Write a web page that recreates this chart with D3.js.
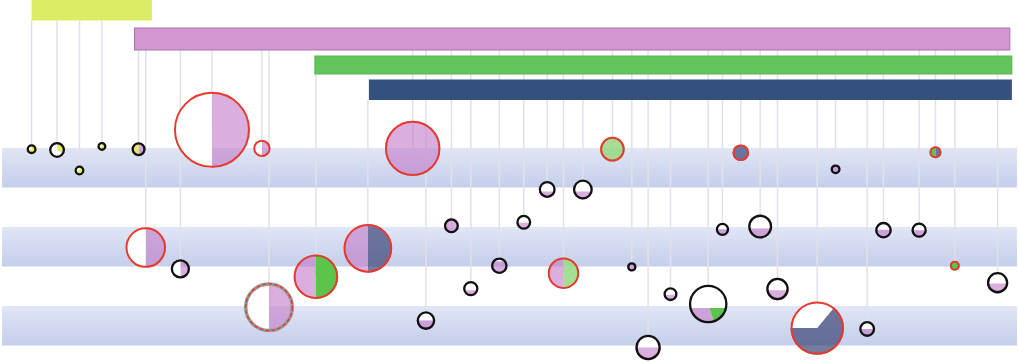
<!DOCTYPE html>
<html><head><meta charset="utf-8">
<script src="https://cdn.jsdelivr.net/npm/d3@7"></script>
<style>body{margin:0;background:#fff;overflow:hidden}svg{display:block}</style>
</head><body>
<svg id="chart" width="1019" height="362"></svg>
<script>
// ---------- DATA ----------
const eraNames = ["Era I", "Era II", "Era III", "Era IV"];
const eraStart = [3.1, 13.2, 30.9, 36.2];
const eraEnd   = [14.9, 99.1, 99.3, 99.3];

const bandRows = [[0, 1], [2, 3], [4, 5]];

const eventX = [3.1, 5.6, 7.8, 10.0, 13.6, 20.8, 25.7, 14.3, 17.7, 26.4,
  31.0, 36.1, 40.5, 60.1, 72.7, 82.0, 91.8, 93.7, 53.7, 57.2,
  44.3, 51.4, 49.0, 46.2, 41.8, 55.3, 62.0, 63.6, 65.8, 70.9,
  74.6, 69.5, 76.3, 80.2, 85.1, 86.7, 90.2, 97.9];
const eventY = [0.03, 0.05, 0.57, -0.04, 0.03, -0.46, 0.01, 2.52, 3.06, 4.03,
  3.26, 2.54, 0.01, 0.03, 0.12, 0.54, 0.11, 2.98, 1.05, 1.05,
  1.97, 1.88, 2.98, 3.56, 4.37, 3.17, 3.01, 5.05, 3.70, 2.06,
  1.99, 3.95, 3.57, 4.56, 4.58, 2.08, 2.08, 3.41];
const eventSize = [1.7, 4.4, 1.7, 1.4, 3.4, 100, 5.2, 28.5, 6.5, 37.6,
  34.4, 40.9, 53.1, 10.5, 4.8, 1.7, 2.5, 1.7, 5.0, 6.9,
  3.9, 3.9, 4.8, 4.1, 6.0, 17.1, 1.5, 11.2, 3.4, 3.1,
  10.0, 25.8, 8.8, 49.4, 4.4, 4.8, 4.1, 7.9];
const eventLevel = [1, 1, 1, 1, 1, 1, 1, 1, 1, 1,
  1, 1, 1, 1, 1, 1, 1, 1, 0.38, 0.4,
  1, 0.47, 0.75, 0.4, 0.5, 1, 1, 0.5, 0.45, 0.5,
  0.42, 0.4, 0.45, 1, 0.49, 0.52, 0.5, 0.46];
const eventBorder = ["k","k","k","k","k","r","r","r","k","d",
  "r","r","r","r","r","k","r","r","k","k",
  "k","k","k","k","k","r","k","k","k","k",
  "k","k","k","r","k","k","k","k"];
const eventEra = [0,0,0,0,1,1,1,1,1,1,
  2,3,1,1,1,1,1,1,1,1,
  1,1,1,1,1,1,1,1,1,1,
  1,1,1,1,1,1,1,1];
const HALF_PW = [["P", 0.5], ["W", 0.5]];
const FULL_P = [["P", 1]];
const eventSlices = [
  [["Y", 0.7], ["W", 0.3]], [["Y", 0.33], ["W", 0.67]], [["Y", 0.75], ["W", 0.25]],
  [["Y", 0.75], ["W", 0.25]], [["P", 0.5], ["Y", 0.5]],
  HALF_PW, HALF_PW, HALF_PW, HALF_PW, HALF_PW,
  [["G", 0.5], ["P", 0.5]], [["B", 0.5], ["P", 0.5]], FULL_P, [["L", 1]], [["B", 1]],
  FULL_P, [["B", 0.5], ["G", 0.5]], [["G", 1]], FULL_P, FULL_P,
  FULL_P, FULL_P, FULL_P, FULL_P, FULL_P, [["L", 0.5], ["P", 0.5]], FULL_P, FULL_P, FULL_P, FULL_P,
  FULL_P, [["G", 0.45], ["P", 0.55]], FULL_P, [["W", 0.11], ["B", 0.64], ["W", 0.25]],
  FULL_P, FULL_P, FULL_P, FULL_P
];

// ---------- STYLE ----------
const eraFill = ["#dcec64", "#d396d0", "#62c45a", "#34507c"];
const eraStroke = ["none", "#a772ae", "#58b850", "none"];
const sliceFill = {Y: "#e4ec64", P: "#c27ac8", G: "#5cc44c", L: "#98d884", B: "#3c4478", W: "#ffffff"};
const sliceOpacity = {Y: 1, P: 0.6, G: 1, L: 0.85, B: 0.7, W: 1};

const W = 1019, H = 362;
const svg = d3.select("#chart");
const x = d3.scaleLinear().domain([0, 100]).range([0, W]);
const y = d3.scaleLinear().domain([0, 5]).range([148, 345.5]);
const r = d3.scaleSqrt().domain([0, 100]).range([0, 38]);
const eraTop = d3.scaleOrdinal().domain(d3.range(eraNames.length)).range([0, 28, 56, 79.5]);
const eraBottom = d3.scaleOrdinal().domain(d3.range(eraNames.length)).range([20.5, 50, 74, 100]);

const defs = svg.append("defs");
const grad = defs.append("linearGradient").attr("id", "bandGrad")
  .attr("x1", 0).attr("y1", 0).attr("x2", 0).attr("y2", 1);
grad.append("stop").attr("offset", "0%").attr("stop-color", "#e0e6f5");
grad.append("stop").attr("offset", "100%").attr("stop-color", "#c5ceeb");

// bands
svg.append("g").selectAll("rect").data(bandRows).join("rect")
  .attr("x", x(0.2)).attr("width", x(99.8) - x(0.2))
  .attr("y", d => y(d[0])).attr("height", d => y(d[1]) - y(d[0]))
  .attr("fill", "url(#bandGrad)");

const events = eventX.map((v, i) => ({
  i, x: v, y: eventY[i], size: eventSize[i], level: eventLevel[i],
  border: eventBorder[i], era: eventEra[i], slices: eventSlices[i]
}));

// vertical lines
svg.append("g").selectAll("line").data(events).join("line")
  .attr("x1", d => x(d.x)).attr("x2", d => x(d.x))
  .attr("y1", d => eraBottom(d.era))
  .attr("y2", d => y(d.y))
  .attr("stroke", "#e1e1e9").attr("stroke-width", 1.5);

// era bars
svg.append("g").selectAll("rect").data(eraNames).join("rect")
  .attr("x", (d, i) => x(eraStart[i]))
  .attr("width", (d, i) => x(eraEnd[i]) - x(eraStart[i]))
  .attr("y", (d, i) => eraTop(i)).attr("height", (d, i) => eraBottom(i) - eraTop(i))
  .attr("fill", (d, i) => eraFill[i])
  .attr("stroke", (d, i) => eraStroke[i]).attr("stroke-width", 1);

// circles
const pie = d3.pie().sort(null).value(d => d[1]);
const gC = svg.append("g");
events.forEach(d => {
  const R = r(d.size);
  const g = gC.append("g").attr("transform", `translate(${x(d.x)},${y(d.y)})`);
  const levelY = R - 2 * R * d.level;
  const cid = "clip" + d.i, uid = "up" + d.i;
  defs.append("clipPath").attr("id", cid).append("rect")
    .attr("x", -R - 2).attr("width", 2 * R + 4).attr("y", levelY).attr("height", R - levelY + 2);
  if (d.level < 1) {
    defs.append("clipPath").attr("id", uid).append("rect")
      .attr("x", -R - 2).attr("width", 2 * R + 4).attr("y", -R - 2).attr("height", levelY + R + 2);
    g.append("circle").attr("r", R).attr("fill", "#fff").attr("clip-path", `url(#${uid})`);
  }
  const arc = d3.arc().innerRadius(0).outerRadius(R);
  g.append("g").attr("clip-path", `url(#${cid})`)
    .selectAll("path").data(pie(d.slices)).join("path")
    .attr("d", arc)
    .attr("fill", s => sliceFill[s.data[0]])
    .attr("fill-opacity", s => sliceOpacity[s.data[0]]);
  const sw = d.border === "k" ? 2.3 : 2;
  if (d.border === "d") {
    g.append("circle").attr("r", R).attr("fill", "none").attr("stroke", "#9a9a9a").attr("stroke-width", 3.5);
    g.append("circle").attr("r", R).attr("fill", "none").attr("stroke", "#e8392f")
      .attr("stroke-width", 1.4).attr("stroke-dasharray", "4,2");
  } else {
    g.append("circle").attr("r", R - sw / 2).attr("fill", "none")
      .attr("stroke", d.border === "k" ? "#111" : "#e63a2e").attr("stroke-width", sw);
  }
});
</script>
</body></html>
